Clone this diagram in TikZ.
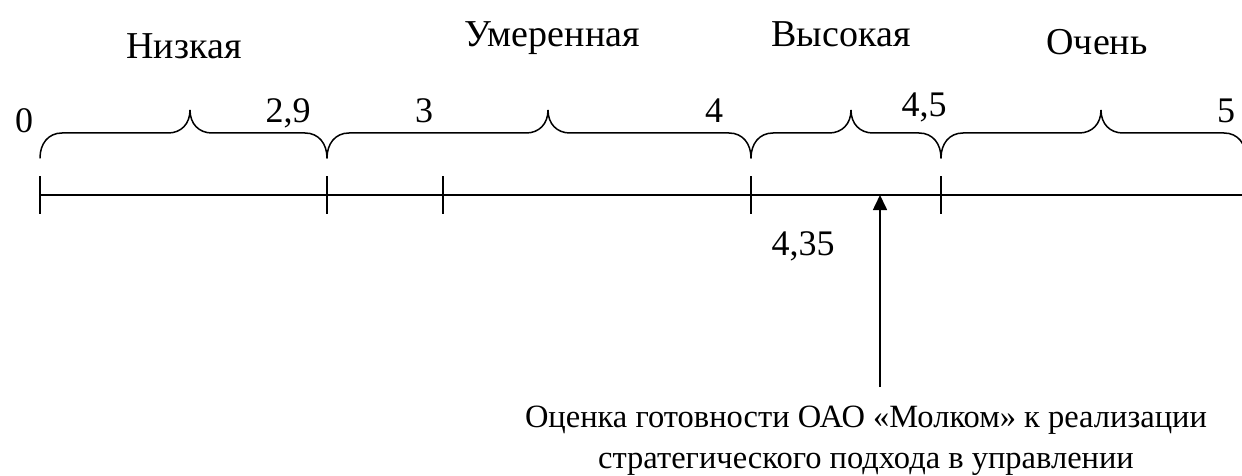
\documentclass[tikz,border=0pt]{standalone}
\usepackage{fontspec}
\setmainfont{Liberation Serif}
\usetikzlibrary{
    arrows.meta,
    positioning
}
\tikzset{
  lbl/.style      = {font=\fontsize{36}{35}\selectfont, inner sep=0pt, anchor=base},
  level/.style    = {lbl, font=\fontsize{38}{40}\selectfont},
  note/.style     = {lbl, font=\fontsize{32.5}{41}\selectfont, align=center},
  axisline/.style = {line width=1.6pt},
  tickmark/.style = {line width=1.5pt},
  bracket/.style  = {line width=1.5pt, line cap=round},
  arr/.style      = {-{Triangle[length=15pt, width=14pt]}, line width=1.6pt}
}

\begin{document}
\begin{tikzpicture}[x=1pt, y=-1pt]
  \useasboundingbox (0,0) rectangle (1242,476);

  % scale points
  \foreach \n/\x in {p0/40, p29/327, p3/443, p4/751, p45/941}{
    \coordinate (\n) at (\x,195);
    \draw[tickmark] ([yshift=19pt]\n) -- ([yshift=-19pt]\n);
  }
  \coordinate (axisend) at (1242,195);
  \draw[axisline] (p0) -- (axisend);

  % braces over the ranges
  \foreach \a/\t/\b in {40/190/327, 327/548/751, 751/851/941, 941/1101/1246}{
    \draw[bracket] (\a,158) .. controls (\a,144) and (\a+8,133) .. (\a+22,133)
      -- (\t-22,133) .. controls (\t-9,133) and (\t,124) .. (\t,110)
      .. controls (\t,124) and (\t+9,133) .. (\t+22,133)
      -- (\b-22,133) .. controls (\b-8,133) and (\b,144) .. (\b,158);
  }

  \node[level] (low)  at (184,59)  {Низкая};
  \node[level] (mid)  at (552,47)  {Умеренная};
  \node[level] (high) at (841,47)  {Высокая};
  \node[level] (very) at (1097,55) {Очень};

  \node[lbl] (v0)  at (24,133)   {0};
  \node[lbl] (v29) at (288,123)  {2,9};
  \node[lbl] (v3)  at (424,123)  {3};
  \node[lbl] (v4)  at (714,123)  {4};
  \node[lbl] (v45) at (924,117)  {4,5};
  \node[lbl] (v5)  at (1226,123) {5};
  \node[lbl] (v435) at (803,255) {4,35};

  \node[note] (caption) at (866,468)
    {Оценка готовности ОАО «Молком» к реализации\\
     стратегического подхода в управлении};

  \coordinate (score) at (880,195);
  \coordinate (scorefoot) at (880,387);
  \draw[arr] (scorefoot) -- (score);
\end{tikzpicture}
\end{document}
